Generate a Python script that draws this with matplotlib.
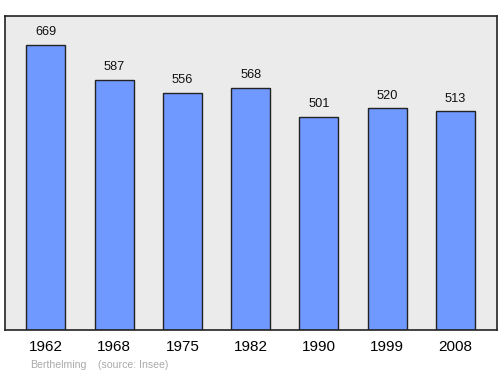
import matplotlib
matplotlib.use("Agg")
import matplotlib.pyplot as plt

plt.rcParams["font.family"] = ["Liberation Sans", "DejaVu Sans"]

years = ["1962", "1968", "1975", "1982", "1990", "1999", "2008"]
population = [669, 587, 556, 568, 501, 520, 513]

fig = plt.figure(figsize=(5, 3.74), dpi=100)
ax = fig.add_axes([5/500, 1 - 330/374, 492/500, 314/374])
ax.set_facecolor("#ebebeb")
x = list(range(len(years)))
ax.bar(x, population, width=0.57, color="#7099ff", edgecolor="#222222", linewidth=1.0)
for xi, v in zip(x, population):
    ax.text(xi, v + 16, str(v), ha="center", va="bottom", fontsize=9.2, color="#111111")
ax.set_xlim(-0.6, 6.61)
ax.set_ylim(0, 737)
ax.set_yticks([])
ax.set_xticks(x)
ax.set_xticklabels(years, fontsize=11)
ax.tick_params(axis="x", length=0, pad=7.5)
for s in ax.spines.values():
    s.set_color("#222222")
    s.set_linewidth(1.2)
fig.text(30/500, 1 - 365/374, "Berthelming", fontsize=7.6, color="#aaaaaa", va="center", ha="left")
fig.text(98/500, 1 - 365/374, "(source: Insee)", fontsize=7.6, color="#aaaaaa", va="center", ha="left")
fig.savefig("out.png", dpi=100)
